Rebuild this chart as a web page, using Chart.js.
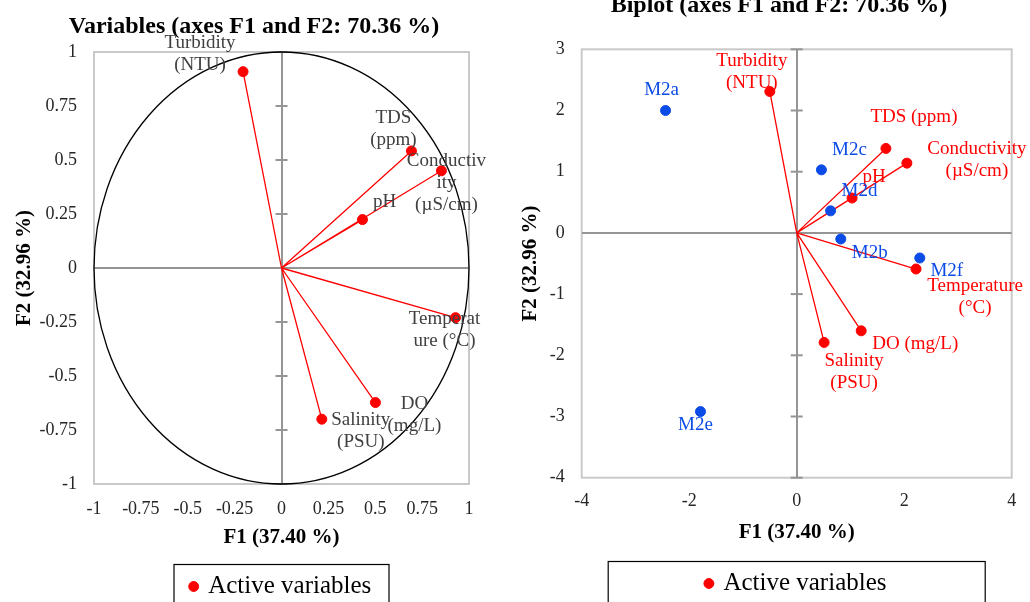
<!DOCTYPE html>
<html lang="en">

<head>
    <meta charset="UTF-8">
    <meta name="viewport" content="width=device-width, initial-scale=1.0">
    <title>PCA - F1 e F2</title>
    <script src="https://cdn.jsdelivr.net/npm/chart.js"></script>
    <style>
        body { margin: 0; width: 1030px; height: 602px; overflow: hidden; background: #ffffff; }
        #esquerda { position: absolute; left: 0; top: 0; width: 515px; height: 609px; }
        #direita { position: absolute; left: 515px; top: 0; width: 515px; height: 606px; }
    </style>
</head>

<body>
    <div id="esquerda"><canvas id="graficoVariaveis"></canvas></div>
    <div id="direita"><canvas id="graficoBiplot"></canvas></div>
</body>
</html>
<script>
// circulo de correlacoes
var f1Variaveis = [-0.205, 0.693, 0.853, 0.432, 0.928, 0.501, 0.215]
var f2Variaveis = [0.909, 0.542, 0.450, 0.224, -0.230, -0.623, -0.700]
var rotulosVariaveis = [['Turbidity', '(NTU)'], ['TDS', '(ppm)'], ['Conductiv', 'ity', '(µS/cm)'], ['pH'],
                        ['Temperat', 'ure (°C)'], ['DO', '(mg/L)'], ['Salinity', '(PSU)']]
var ticksVariaveis = [-1, -0.75, -0.5, -0.25, 0, 0.25, 0.5, 0.75, 1]

// biplot
var f1Biplot = [-0.50, 1.66, 2.05, 1.03, 2.22, 1.20, 0.51]
var f2Biplot = [2.31, 1.38, 1.14, 0.57, -0.59, -1.60, -1.79]
var rotulosBiplot = [['Turbidity', '(NTU)'], ['TDS (ppm)'], ['Conductivity', '(µS/cm)'], ['pH'],
                     ['Temperature', '(°C)'], ['DO (mg/L)'], ['Salinity', '(PSU)']]
var observacoes = ['M2a', 'M2b', 'M2c', 'M2d', 'M2e', 'M2f']
var f1Observacoes = [-2.44, 0.82, 0.46, 0.63, -1.79, 2.29]
var f2Observacoes = [2.00, -0.10, 1.03, 0.36, -2.92, -0.41]
var ticksBiplotX = [-4, -2, 0, 2, 4]
var ticksBiplotY = [-4, -3, -2, -1, 0, 1, 2, 3]

// deslocamento (px) do centro da primeira linha de cada rotulo
var deslocVariaveis = [[-43, -29], [-18, -33], [5, -10], [22, -18], [-11, 1], [39, 1], [39, 1]]
var deslocBiplot = [[-18, -31], [28, -31], [70, -14], [22, -21], [59, 17], [54, 13], [30, 19]]
var deslocObservacoes = [[-4, -20], [29, 14], [28, -20], [29, -20], [-5, 13], [27, 13]]

var vermelho = '#ff0000'
var azul = '#0b4be6'
var corEixo = '#959595'
var corMoldura = '#c9c9c9'

Chart.defaults.font.family = "'Liberation Serif', 'Times New Roman', serif"
Chart.defaults.color = '#262626'

function pontos(f1, f2) {
  var lista = []
  for (var i = 0; i < f1.length; i++) {
    lista.push({ x: f1[i], y: f2[i] })
  }
  return lista
}

function vetores(f1, f2) {
  var lista = []
  for (var i = 0; i < f1.length; i++) {
    lista.push({ x: 0, y: 0 })
    lista.push({ x: f1[i], y: f2[i] })
    lista.push({ x: null, y: null })
  }
  return lista
}

var pluginPCA = {
  id: 'pca',
  beforeDraw: function (chart) {
    var ctx = chart.ctx
    var area = chart.chartArea
    ctx.save()
    ctx.strokeStyle = corMoldura
    ctx.lineWidth = 2
    ctx.strokeRect(area.left, area.top, area.right - area.left, area.bottom - area.top)
    ctx.restore()
  },
  beforeDatasetsDraw: function (chart, args, opcoes) {
    var ctx = chart.ctx
    var escX = chart.scales.x
    var escY = chart.scales.y
    var x0 = escX.getPixelForValue(0)
    ctx.save()
    ctx.strokeStyle = corEixo
    ctx.lineWidth = 2
    escY.ticks.forEach(function (t) {
      if (t.value === 0) return
      var py = escY.getPixelForValue(t.value)
      ctx.beginPath()
      ctx.moveTo(x0 - 6, py)
      ctx.lineTo(x0 + 6, py)
      ctx.stroke()
    })
    if (opcoes.circulo) {
      var y0 = escY.getPixelForValue(0)
      ctx.strokeStyle = '#000000'
      ctx.lineWidth = 1.3
      ctx.beginPath()
      ctx.ellipse(x0, y0, escX.getPixelForValue(1) - x0, y0 - escY.getPixelForValue(1), 0, 0, Math.PI * 2)
      ctx.stroke()
    }
    ctx.restore()
  },
  afterDatasetsDraw: function (chart) {
    var ctx = chart.ctx
    ctx.save()
    ctx.font = "19px 'Liberation Serif', serif"
    ctx.textAlign = 'center'
    ctx.textBaseline = 'middle'
    chart.data.datasets.forEach(function (ds, i) {
      if (!ds.rotulos) return
      var meta = chart.getDatasetMeta(i)
      ctx.fillStyle = ds.corRotulo
      meta.data.forEach(function (ponto, j) {
        var linhas = ds.rotulos[j]
        var d = ds.deslocamentos[j]
        for (var k = 0; k < linhas.length; k++) {
          ctx.fillText(linhas[k], ponto.x + d[0], ponto.y + d[1] + k * 22)
        }
      })
    })
    ctx.restore()
  },
  afterDraw: function (chart, args, opcoes) {
    var ctx = chart.ctx
    var area = chart.chartArea
    var meio = (area.left + area.right) / 2
    ctx.save()
    ctx.strokeStyle = '#000000'
    ctx.lineWidth = 1.2
    ctx.strokeRect(meio - opcoes.larguraLegenda / 2, chart.legend.top + 0.5, opcoes.larguraLegenda, 80)
    ctx.restore()
  }
}

function opcoesEscala(min, max, lista, larguraOuAltura, titulo, padTitulo, padTicks) {
  return {
    type: 'linear',
    min: min,
    max: max,
    afterBuildTicks: function (escala) {
      escala.ticks = lista.map(function (v) { return { value: v } })
    },
    afterFit: function (escala) {
      if (escala.isHorizontal()) {
        escala.height = larguraOuAltura
      } else {
        escala.width = larguraOuAltura
      }
    },
    grid: {
      color: function (c) { return c.tick && c.tick.value === 0 ? corEixo : 'rgba(0,0,0,0)' },
      lineWidth: 2,
      drawTicks: false
    },
    border: { display: false },
    ticks: {
      padding: padTicks,
      font: { size: 18 },
      callback: function (v) { return String(v) }
    },
    title: {
      display: true,
      text: titulo,
      color: '#000000',
      font: { size: 21, weight: 'bold' },
      padding: padTitulo
    }
  }
}

function legendaPCA() {
  return {
    position: 'bottom',
    fullSize: false,
    labels: {
      color: '#000000',
      font: { size: 25 },
      usePointStyle: true,
      pointStyle: 'circle',
      boxWidth: 4,
      boxHeight: 7,
      padding: 10,
      filter: function (item) { return item.text === 'Active variables' }
    }
  }
}

new Chart(document.getElementById('graficoVariaveis'), {
  type: 'scatter',
  data: {
    datasets: [{
      label: 'Active variables',
      data: pontos(f1Variaveis, f2Variaveis),
      backgroundColor: vermelho,
      borderColor: vermelho,
      pointRadius: 5,
      rotulos: rotulosVariaveis,
      deslocamentos: deslocVariaveis,
      corRotulo: '#404040'
    }, {
      label: 'vetores',
      data: vetores(f1Variaveis, f2Variaveis),
      showLine: true,
      borderColor: vermelho,
      borderWidth: 1.3,
      pointRadius: 0
    }]
  },
  options: {
    responsive: true,
    maintainAspectRatio: false,
    animation: false,
    layout: { padding: { left: 39, right: 46, top: 0, bottom: 0 } },
    scales: {
      x: opcoesEscala(-1, 1, ticksVariaveis, 80, 'F1 (37.40 %)', { top: 0, bottom: 13.4 }, 14),
      y: opcoesEscala(-1, 1, ticksVariaveis, 55, 'F2 (32.96 %)', { top: -27, bottom: 0 }, 17)
    },
    plugins: {
      title: {
        display: true,
        text: 'Variables (axes F1 and F2: 70.36 %)',
        color: '#000000',
        font: { size: 24, weight: 'bold' },
        padding: { top: 12, bottom: 11.2 }
      },
      legend: legendaPCA(),
      tooltip: { enabled: false },
      pca: { circulo: true, larguraLegenda: 215 }
    }
  },
  plugins: [pluginPCA]
})

new Chart(document.getElementById('graficoBiplot'), {
  type: 'scatter',
  data: {
    datasets: [{
      label: 'Active variables',
      data: pontos(f1Biplot, f2Biplot),
      backgroundColor: vermelho,
      borderColor: vermelho,
      pointRadius: 5,
      rotulos: rotulosBiplot,
      deslocamentos: deslocBiplot,
      corRotulo: vermelho
    }, {
      label: 'Active observations',
      data: pontos(f1Observacoes, f2Observacoes),
      backgroundColor: azul,
      borderColor: azul,
      pointRadius: 5,
      rotulos: observacoes.map(function (o) { return [o] }),
      deslocamentos: deslocObservacoes,
      corRotulo: azul
    }, {
      label: 'vetores',
      data: vetores(f1Biplot, f2Biplot),
      showLine: true,
      borderColor: vermelho,
      borderWidth: 1.3,
      pointRadius: 0
    }]
  },
  options: {
    responsive: true,
    maintainAspectRatio: false,
    animation: false,
    layout: { padding: { left: 31.3, right: 18.3, top: 0, bottom: 0 } },
    scales: {
      x: opcoesEscala(-4, 4, ticksBiplotX, 83.3, 'F1 (37.40 %)', { top: 0, bottom: 16 }, 13),
      y: opcoesEscala(-4, 3, ticksBiplotY, 35.4, 'F2 (32.96 %)', { top: -28, bottom: 0 }, 17)
    },
    plugins: {
      title: {
        display: true,
        text: 'Biplot (axes F1 and F2: 70.36 %)',
        color: '#000000',
        font: { size: 24, weight: 'bold' },
        padding: { top: -9, bottom: 29.5 }
      },
      legend: legendaPCA(),
      tooltip: { enabled: false },
      pca: { circulo: false, larguraLegenda: 377 }
    }
  },
  plugins: [pluginPCA]
})
</script>
